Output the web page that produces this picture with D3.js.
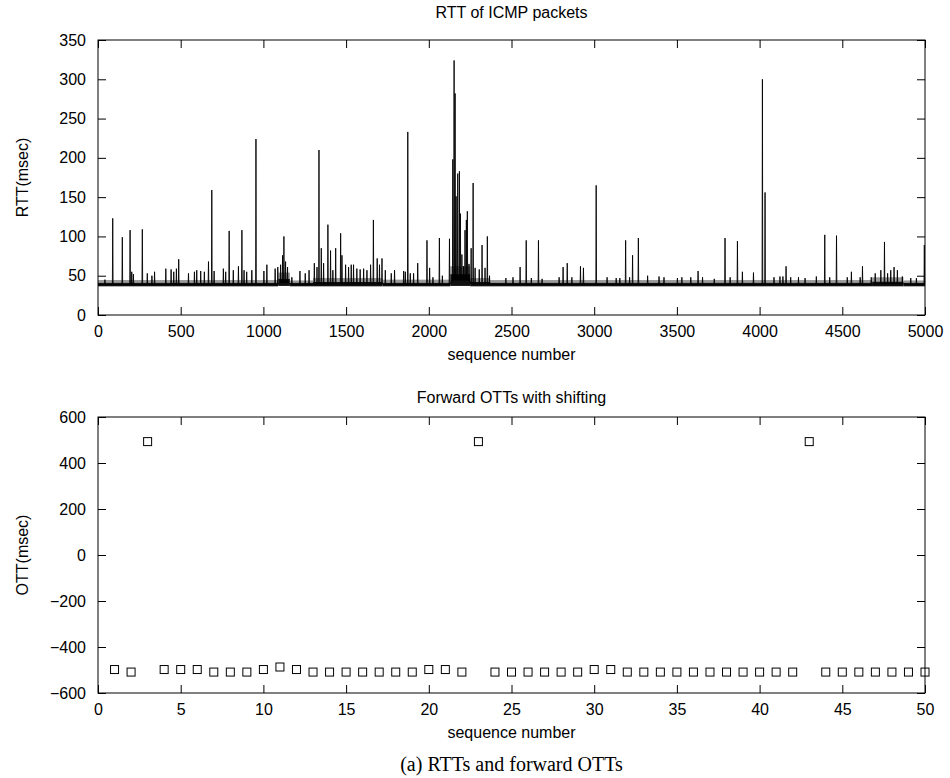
<!DOCTYPE html>
<html>
<head>
<meta charset="utf-8">
<script src="https://d3js.org/d3.v7.min.js"></script>
<style>
  body { margin: 0; background: #fff; }
  svg { display: block; }
  .tick text { font-family: "Liberation Sans", Arial, sans-serif; font-size: 16px; fill: #000; }
  .label { font-family: "Liberation Sans", Arial, sans-serif; font-size: 16px; fill: #000; }
  .caption { font-family: "Liberation Serif", "Times New Roman", serif; font-size: 20px; fill: #000; }
</style>
</head>
<body>
<div class="graphContainer"></div>
<script>
const W = 950;
const H = 778;

// RTT spikes: sequence number and RTT (msec)
const rttSeq = [42,89,147,194,204,214,268,298,326,342,410,442,458,474,488,547,583,597,621,643,
  668,688,702,758,772,793,818,849,870,883,899,930,955,1003,1021,1071,1087,1104,1116,1124,
  1134,1146,1172,1221,1253,1276,1308,1324,1336,1350,1364,1390,1406,1420,1437,1467,1475,1497,1515,1531,
  1545,1565,1585,1606,1626,1648,1665,1688,1702,1717,1737,1773,1793,1848,1858,1873,1888,1908,1933,1989,
  2005,2025,2064,2082,2125,2145,2153,2159,2165,2175,2185,2191,2200,2210,2219,2227,2233,2243,2256,2268,
  2280,2305,2322,2340,2354,2367,2466,2509,2552,2589,2620,2663,2685,2788,2812,2837,2865,2917,2935,3012,
  3078,3133,3155,3190,3214,3232,3267,3323,3392,3422,3503,3530,3584,3628,3655,3726,3791,3822,3866,3896,
  3963,4017,4033,4087,4123,4141,4160,4188,4235,4275,4343,4394,4424,4465,4530,4555,4608,4622,4675,4699,
  4733,4755,4774,4793,4813,4833,4863,4914,4948,4996];
const rttVal = [45,123,99,108,55,52,109,53,50,55,59,58,55,59,71,53,55,57,56,55,
  68,159,56,59,55,107,57,62,108,57,55,57,224,56,64,59,61,64,76,100,
  68,61,48,56,53,57,66,61,210,85,66,115,82,57,85,104,76,64,61,64,
  64,59,58,59,57,64,121,72,64,72,57,53,57,56,55,233,53,53,66,95,
  60,48,98,50,97,198,324,282,151,180,183,129,77,62,108,121,132,65,85,168,
  60,58,89,60,100,50,47,48,61,95,47,95,46,48,61,66,48,62,60,165,
  48,47,47,95,48,76,98,50,49,48,47,48,48,56,48,46,98,48,94,55,
  54,300,156,48,49,49,62,48,48,47,49,102,48,101,48,55,48,62,48,53,
  57,93,53,57,61,57,49,47,47,89];

// noise floor of the RTT trace, by stretch of sequence numbers
const floorStart = [0, 1090, 1160, 1300, 1720, 2130, 2250, 2370, 4680, 4870];
const floorEnd   = [1090, 1160, 1300, 1720, 2130, 2250, 2370, 4680, 4870, 5000];
const floorLow   = [36.5, 37, 36.5, 36.5, 36.5, 37, 36.5, 36.5, 36.5, 36.5];
const floorCore  = [41, 46, 41, 42, 41, 52, 42, 41, 42.5, 41];
const floorTop   = [44.5, 54, 44, 47, 45, 62, 47, 44.5, 48, 44];

// forward OTTs with shifting
const ottSeq = [1,2,3,4,5,6,7,8,9,10,11,12,13,14,15,16,17,18,19,20,
  21,22,23,24,25,26,27,28,29,30,31,32,33,34,35,36,37,38,39,40,
  41,42,43,44,45,46,47,48,49,50];
const ottVal = [-498,-509,493,-498,-498,-498,-509,-509,-509,-498,-487,-498,-509,-509,-509,-509,-509,-509,-509,-498,
  -498,-509,493,-509,-509,-509,-509,-509,-509,-498,-498,-509,-509,-509,-509,-509,-509,-509,-509,-509,
  -509,-509,493,-509,-509,-509,-509,-509,-509,-509];

const xTicksTop = [0,500,1000,1500,2000,2500,3000,3500,4000,4500,5000];
const yTicksTop = [0,50,100,150,200,250,300,350];
const xTicksBot = [0,5,10,15,20,25,30,35,40,45,50];
const yTicksBot = [-600,-400,-200,0,200,400,600];

const left = 98, right = 925;
const top1 = 40, bot1 = 315;
const top2 = 417, bot2 = 693;
const tk = 8;

const svg = d3.select(".graphContainer").append("svg")
  .attr("width", W)
  .attr("height", H);

//draw a MATLAB style frame with inward ticks on all four sides
function frame(g, x, y, xt, yt, top, bot) {
  g.append("g").attr("transform", `translate(0,${bot})`)
    .call(d3.axisBottom(x).tickValues(xt).tickSize(-tk).tickSizeOuter(0).tickPadding(11).tickFormat(d3.format("d")));
  g.append("g").attr("transform", `translate(0,${top})`)
    .call(d3.axisTop(x).tickValues(xt).tickSize(-tk).tickSizeOuter(0).tickFormat(""));
  g.append("g").attr("transform", `translate(${left},0)`)
    .call(d3.axisLeft(y).tickValues(yt).tickSize(-tk).tickSizeOuter(0).tickPadding(12).tickFormat(d3.format("d")));
  g.append("g").attr("transform", `translate(${right},0)`)
    .call(d3.axisRight(y).tickValues(yt).tickSize(-tk).tickSizeOuter(0).tickFormat(""));
  g.selectAll(".domain").remove();
  g.selectAll(".tick line").attr("stroke", "#000");
  g.append("rect")
    .attr("x", left).attr("y", top)
    .attr("width", right - left).attr("height", bot - top)
    .attr("fill", "none").attr("stroke", "#000").attr("stroke-width", 1);
}

// ---- top: RTT of ICMP packets
const x1 = d3.scaleLinear().domain([0, 5000]).range([left, right]);
const y1 = d3.scaleLinear().domain([0, 350]).range([bot1, top1]);
const g1 = svg.append("g");

const floors = floorStart.map((s, i) => ({s, e: floorEnd[i], lo: floorLow[i], core: floorCore[i], hi: floorTop[i]}));
g1.selectAll(".fringe").data(floors).enter().append("rect")
  .attr("class", "fringe")
  .attr("x", d => x1(d.s)).attr("width", d => x1(d.e) - x1(d.s))
  .attr("y", d => y1(d.hi)).attr("height", d => y1(d.core) - y1(d.hi))
  .attr("fill", "#9a9a9a");
g1.selectAll(".floor").data(floors).enter().append("rect")
  .attr("class", "floor")
  .attr("x", d => x1(d.s)).attr("width", d => x1(d.e) - x1(d.s))
  .attr("y", d => y1(d.core)).attr("height", d => y1(d.lo) - y1(d.core))
  .attr("fill", "#111");

//each spike rises from the floor level of its stretch and drops back
function floorAt(s) {
  const f = floors.find(d => s >= d.s && s < d.e) || floors[floors.length - 1];
  return (f.lo + f.core) / 2;
}
let pts = [[0, floorAt(0)]];
rttSeq.forEach((s, i) => {
  pts.push([s - 2, floorAt(s)], [s, rttVal[i]], [s + 2, floorAt(s)]);
});
pts.push([5000, floorAt(4999)]);
pts.sort((a, b) => a[0] - b[0]);

g1.append("path")
  .datum(pts)
  .attr("fill", "none")
  .attr("stroke", "#000")
  .attr("stroke-width", 0.9)
  .attr("d", d3.line().x(d => x1(d[0])).y(d => y1(d[1])));

frame(g1, x1, y1, xTicksTop, yTicksTop, top1, bot1);

svg.append("text").attr("class", "label").attr("text-anchor", "middle")
  .attr("x", (left + right) / 2).attr("y", 18).text("RTT of ICMP packets");
svg.append("text").attr("class", "label").attr("text-anchor", "middle")
  .attr("x", (left + right) / 2).attr("y", 360).text("sequence number");
svg.append("text").attr("class", "label").attr("text-anchor", "middle")
  .attr("transform", `translate(28,${(top1 + bot1) / 2}) rotate(-90)`).text("RTT(msec)");

// ---- bottom: Forward OTTs with shifting
const x2 = d3.scaleLinear().domain([0, 50]).range([left, right]);
const y2 = d3.scaleLinear().domain([-600, 600]).range([bot2, top2]);
const g2 = svg.append("g");

frame(g2, x2, y2, xTicksBot, yTicksBot, top2, bot2);

const sq = 8;
g2.selectAll(".ott").data(ottSeq).enter().append("rect")
  .attr("class", "ott")
  .attr("x", (d) => x2(d) - sq / 2)
  .attr("y", (d, i) => y2(ottVal[i]) - sq / 2)
  .attr("width", sq).attr("height", sq)
  .attr("fill", "none").attr("stroke", "#000").attr("stroke-width", 1);

svg.append("text").attr("class", "label").attr("text-anchor", "middle")
  .attr("x", (left + right) / 2).attr("y", 403).text("Forward OTTs with shifting");
svg.append("text").attr("class", "label").attr("text-anchor", "middle")
  .attr("x", (left + right) / 2).attr("y", 738).text("sequence number");
svg.append("text").attr("class", "label").attr("text-anchor", "middle")
  .attr("transform", `translate(28,${(top2 + bot2) / 2}) rotate(-90)`).text("OTT(msec)");

svg.append("text").attr("class", "caption").attr("text-anchor", "middle")
  .attr("x", (left + right) / 2).attr("y", 771).text("(a) RTTs and forward OTTs");
</script>
</body>
</html>
